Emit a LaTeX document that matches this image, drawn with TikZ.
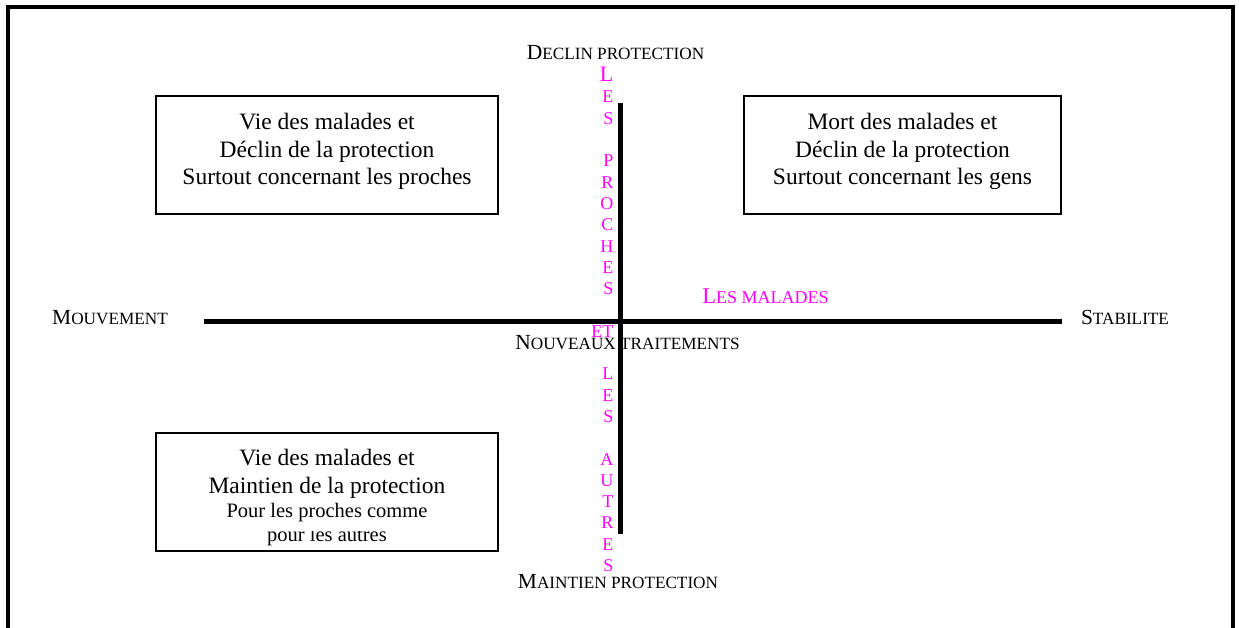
\documentclass[tikz,border=0pt]{standalone}
\usepackage{fontspec}
\setmainfont{Liberation Serif}
\definecolor{mag}{RGB}{255,0,255}
\newcommand\smc[1]{{\fontsize{17.2}{20}\selectfont #1}}
\begin{document}
\begin{tikzpicture}[x=1pt,y=-1pt,
  lbl/.style={inner sep=0pt, font=\fontsize{21.5}{24}\selectfont},
  box/.style={draw, line width=1.8pt, minimum width=342pt, minimum height=118pt, inner sep=0pt},
  boxr/.style={box, minimum width=317pt},
  boxtxt/.style={inner sep=0pt, align=center, font=\fontsize{23.5}{27.5}\selectfont},
  axisline/.style={line width=5.5pt, line cap=butt},
  framestyle/.style={line width=4pt, line join=miter}]
\useasboundingbox (0,0) rectangle (1239,628);
% outer frame (open at the bottom)
\draw[framestyle] (8,628) -- (8,7) -- (1233,7) -- (1233,628);
% boxes
\node[box] (tl) at (327,155) {};
\node[boxr] (tr) at (902.5,155) {};
\node[box] (bl) at (327,492) {};
\node[boxtxt, anchor=north] (tltxt) at (327,113) {Vie des malades et\\D\'eclin de la protection\\Surtout concernant les proches};
\node[boxtxt, anchor=north] (trtxt) at (902.5,113) {Mort des malades et\\D\'eclin de la protection\\Surtout concernant les gens};
\node[boxtxt, anchor=north] (bltxt) at (327,449) {Vie des malades et\\Maintien de la protection\\[-3.5pt]{\fontsize{20.5}{24}\selectfont Pour les proches comme}};
\begin{scope}
  \clip (156,531) rectangle (498,552);
  \node[inner sep=0pt, anchor=base, font=\fontsize{20.5}{24}\selectfont] (bllast) at (327,541) {pour les autres};
\end{scope}
% axis labels
\node[lbl, anchor=base] (decl) at (615.5,60) {D\smc{ECLIN PROTECTION}};
\node[lbl, anchor=base] (maint) at (618,588) {M\smc{AINTIEN PROTECTION}};
\node[lbl, anchor=base] (mouv) at (110,324) {M\smc{OUVEMENT}};
\node[lbl, anchor=base] (stab) at (1125,324) {S\smc{TABILITE}};
\node[lbl, anchor=base] (nouv) at (627.5,349) {N\smc{OUVEAUX TRAITEMENTS}};
\node[lbl, anchor=base, text=mag, font=\fontsize{22.5}{24}\selectfont] (mal) at (765.5,303) {L{\fontsize{18}{20}\selectfont ES MALADES}};
% vertical pink text
\node[inner sep=0pt, align=right, anchor=north east, text=mag, font=\fontsize{18}{21.3}\selectfont] (vert) at (613.5,67)
  {{\fontsize{22}{21.3}\selectfont L}\\E\\S\\[21.3pt]P\\R\\O\\C\\H\\E\\S\\[21.3pt]ET\\[21.3pt]L\\E\\S\\[21.3pt]A\\U\\T\\R\\E\\S};
% axes
\coordinate (hl) at (204,321.5);
\coordinate (hr) at (1062,321.5);
\coordinate (vt) at (620.5,103);
\coordinate (vb) at (620.5,534);
\draw[axisline] (hl) -- (hr);
\draw[axisline] (vt) -- (vb);
\end{tikzpicture}
\end{document}
